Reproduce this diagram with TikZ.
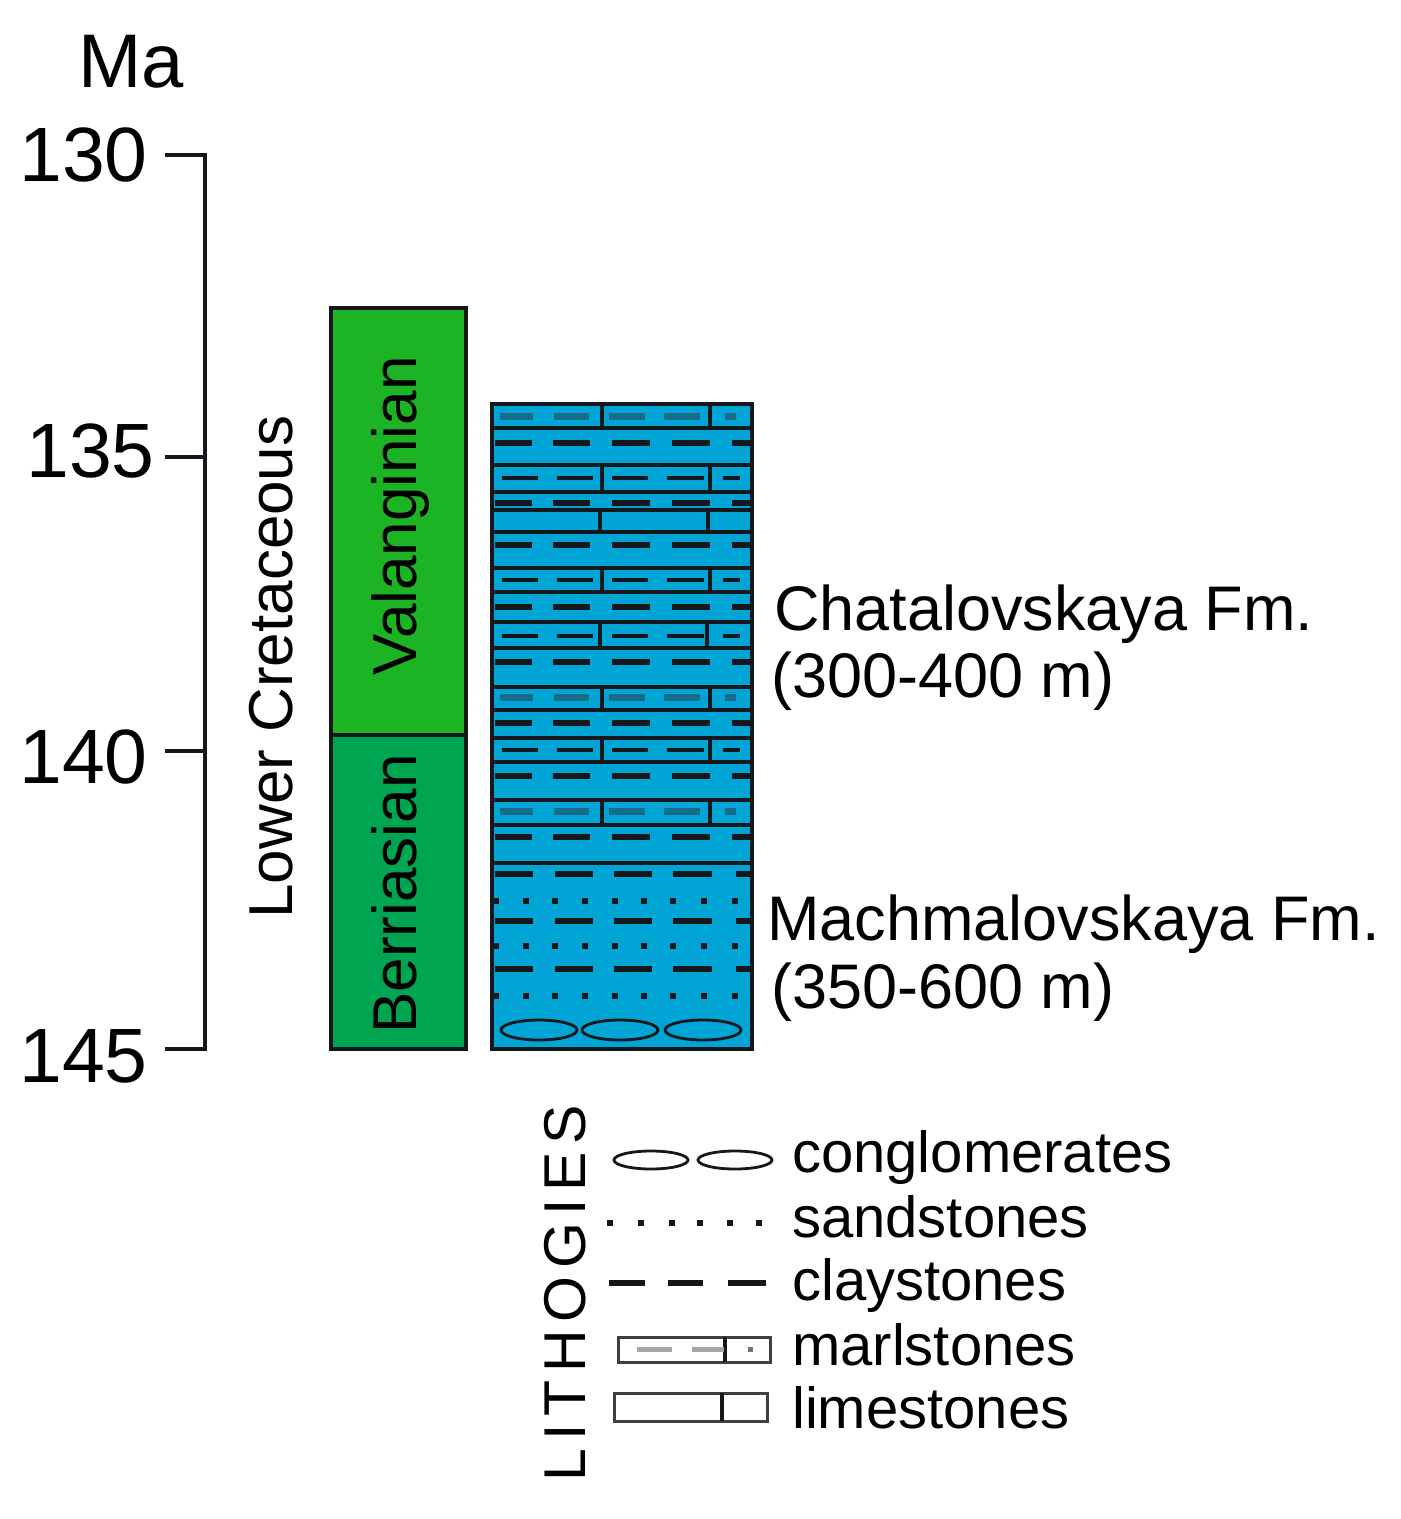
\documentclass[tikz,border=0pt]{standalone}
\usepackage{fontspec}
\setmainfont{Liberation Sans}
\definecolor{valGreen}{RGB}{28,180,36}
\definecolor{berGreen}{RGB}{0,165,82}
\definecolor{colBlue}{RGB}{0,164,213}
\definecolor{marlTeal}{RGB}{22,108,138}
\definecolor{inkDark}{RGB}{20,24,28}
\newcommand\clayrow[1]{\foreach \a/\b in {495/532,553/590,612/650,672/710,732/750} \draw[clay] (\a,#1)--(\b,#1);}
\newcommand\clayrowB[1]{\foreach \a/\b in {495/533,555/593,614/652,673/712,736/750} \draw[clay] (\a,#1)--(\b,#1);}
\newcommand\thinrow[1]{\foreach \a/\b in {502/538,557/593,612/648,667/704,723/740} \draw[thin dash] (\a,#1)--(\b,#1);}
\newcommand\marlrow[1]{\foreach \a/\b in {500/533,554/589,609/645,664/700,725/736} \draw[marl] (\a,#1)--(\b,#1);}
\newcommand\sandrow[1]{\foreach \x in {496,526,555,585,615,644,673,704,735} \fill[inkDark] (\x-2.8,#1-2.8) rectangle (\x+2.8,#1+2.8);}
\newcommand\cells[4]{\draw[cellline] (492,#1)--(752,#1) (492,#2)--(752,#2) (#3,#1)--(#3,#2) (#4,#1)--(#4,#2);}
\begin{document}
\begin{tikzpicture}[x=1pt,y=-1pt,
  lbl/.style={inner sep=0, anchor=base west, font=\fontsize{63}{70}\selectfont},
  leg/.style={inner sep=0, anchor=base west, font=\fontsize{58}{64}\selectfont},
  agelbl/.style={inner sep=0, anchor=base east, font=\fontsize{77}{82}\selectfont},
  vlbl/.style={rotate=90, anchor=base, inner sep=0, font=\fontsize{62}{70}\selectfont},
  stagebox/.style={draw=inkDark, line width=4},
  cellline/.style={line width=3.5, draw=inkDark},
  clay/.style={line width=6, draw=inkDark},
  thin dash/.style={line width=3.2, draw=inkDark},
  marl/.style={line width=7, draw=marlTeal},
  conglo/.style={line width=2.8, draw=inkDark},
  axisline/.style={line width=3.2, draw=inkDark}]
\useasboundingbox (0,0) rectangle (1401,1519);

% age axis
\coordinate (t130) at (205,155);
\coordinate (t135) at (205,457);
\coordinate (t140) at (205,751);
\coordinate (t145) at (205,1049);
\draw[axisline] ([xshift=-40pt]t130) -- (t130) -- (t145) -- ([xshift=-40pt]t145);
\draw[axisline] ([xshift=-40pt]t135) -- (t135);
\draw[axisline] ([xshift=-40pt]t140) -- (t140);
\node[inner sep=0, anchor=base west, font=\fontsize{76}{80}\selectfont] (ma) at (78,87) {Ma};
\node[agelbl] (a130) at (148,181) {130};
\node[agelbl] (a135) at (155,477) {135};
\node[agelbl] (a140) at (148,783) {140};
\node[agelbl] (a145) at (148,1082) {145};

% Lower Cretaceous
\node[vlbl] (lc) at (292,667) {Lower Cretaceous};

% stages
\draw[stagebox, fill=valGreen] (331,308) rectangle (466,735);
\draw[stagebox, fill=berGreen] (331,735) rectangle (466,1049);
\node[vlbl] (val) at (416,516) {Valanginian};
\node[vlbl] (ber) at (416,894) {Berriasian};

% lithological column
\fill[colBlue] (492,404) rectangle (752,1049);
% Chatalovskaya Fm.
\cells{404}{428}{602}{710}\marlrow{416}
\clayrow{443}
\cells{465}{492}{602}{710}\thinrow{478}
\clayrow{503}
\cells{510}{532}{600}{708}
\clayrow{545}
\cells{568}{592}{602}{710}\thinrow{580}
\clayrow{607}
\cells{622}{648}{600}{707}\thinrow{636}
\clayrow{662}
\cells{687}{710}{602}{710}\marlrow{697}
\clayrow{723}
\cells{738}{762}{602}{710}\thinrow{750}
\clayrow{776}
\cells{800}{825}{602}{710}\marlrow{811}
\clayrow{837}
\draw[line width=3.5, draw=inkDark] (492,863) -- (752,863);
% Machmalovskaya Fm.
\clayrowB{874}
\sandrow{901}
\clayrowB{921}
\sandrow{946}
\clayrowB{969}
\sandrow{996}
\foreach \x in {539,620,703} \draw[conglo] (\x,1030) ellipse [x radius=38, y radius=10];
\draw[line width=4, draw=inkDark] (492,404) rectangle (752,1049);

% formation labels
\node[lbl] (chat1) at (774,630) {Chatalovskaya Fm.};
\node[lbl] (chat2) at (771,697) {(300-400 m)};
\node[lbl] (mach1) at (767,940) {Machmalovskaya Fm.};
\node[lbl] (mach2) at (771,1008) {(350-600 m)};

% legend
\node[rotate=90, anchor=base, inner sep=0, font=\fontsize{59}{64}\selectfont\addfontfeatures{LetterSpace=13}] (lith) at (585,1293) {LITHOGIES};
\foreach \x in {651,735} \draw[conglo] (\x,1160) ellipse [x radius=37, y radius=9];
\foreach \x in {610,641,672,700,730,759} \fill[inkDark] (\x-2.8,1223-2.8) rectangle (\x+2.8,1223+2.8);
\foreach \a/\b in {609/645,668/703,728/766} \draw[clay] (\a,1283)--(\b,1283);
\draw[line width=3, draw=black!75] (618,1337) rectangle (770,1362);
\draw[line width=3.5, draw=inkDark] (725,1337) -- (725,1362);
\foreach \a/\b in {637/672,692/724} \draw[line width=5, draw=black!35] (\a,1349)--(\b,1349);
\fill[black!55] (747.5,1346.5) rectangle (752.5,1351.5);
\draw[line width=3, draw=black!75] (614,1393) rectangle (767,1421);
\draw[line width=3.5, draw=inkDark] (722,1393) -- (722,1421);
\node[leg] (lg1) at (792,1172) {conglomerates};
\node[leg] (lg2) at (792,1237) {sandstones};
\node[leg] (lg3) at (792,1300) {claystones};
\node[leg] (lg4) at (792,1365) {marlstones};
\node[leg] (lg5) at (792,1428) {limestones};
\end{tikzpicture}
\end{document}
